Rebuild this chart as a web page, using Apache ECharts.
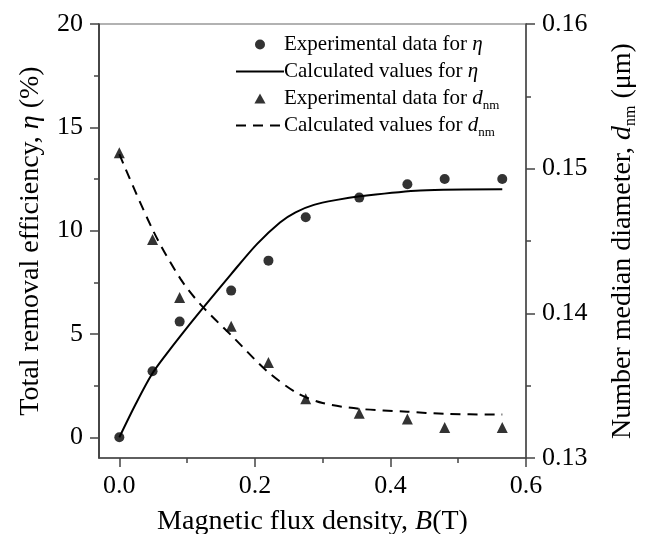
<!DOCTYPE html>
<html>
<head>
<meta charset="utf-8">
<script src="https://cdn.jsdelivr.net/npm/echarts@6/dist/echarts.min.js"></script>
<style>
  html, body { margin: 0; padding: 0; background: #fff; }
  #chart { width: 651px; height: 534px; }
</style>
</head>
<body>
<div id="chart"></div>
<script>
// Measured removal efficiency and number median diameter vs magnetic flux density
const B_exp = [0, 0.049, 0.089, 0.165, 0.22, 0.275, 0.354, 0.425, 0.48, 0.565];
const eta_exp = [0, 3.2, 5.6, 7.1, 8.55, 10.65, 11.6, 12.25, 12.5, 12.5];
const dnm_exp = [0.1511, 0.1451, 0.1411, 0.1391, 0.1366, 0.1341, 0.1331, 0.1327, 0.1321, 0.1321];

// Model curves
const B_eta_calc = [0, 0.024, 0.048, 0.07, 0.09, 0.122, 0.165, 0.203, 0.237, 0.26, 0.287, 0.321, 0.355, 0.444, 0.565];
const eta_calc = [0, 1.6, 3.05, 4.05, 4.9, 6.2, 7.9, 9.35, 10.4, 10.89, 11.25, 11.49, 11.66, 11.94, 12.0];
const B_dnm_calc = [0, 0.05, 0.09, 0.12, 0.169, 0.218, 0.262, 0.3, 0.354, 0.425, 0.48, 0.565];
const dnm_calc = [0.151, 0.1457, 0.1424, 0.1406, 0.1383, 0.136, 0.1345, 0.1338, 0.1334, 0.1332, 0.13305, 0.1330];

// Axis ticks
const xTicks = [0, 0.2, 0.4, 0.6];
const xMinorTicks = [0.1, 0.3, 0.5];
const yLeftTicks = [0, 5, 10, 15, 20];
const yLeftMinorTicks = [2.5, 7.5, 12.5, 17.5];
const yRightTicks = [0.13, 0.14, 0.15, 0.16];
const yRightMinorTicks = [0.135, 0.145, 0.155];

const FONT = '"Liberation Serif", "Times New Roman", serif';
const AX = '#444';

const pairs = (xs, ys) => xs.map((x, i) => [x, ys[i]]);

const richStyles = {
  n: { fontFamily: FONT, fontSize: 28, color: '#000' },
  i: { fontFamily: FONT, fontSize: 28, fontStyle: 'italic', color: '#000' },
  s: { fontFamily: FONT, fontSize: 16, color: '#000', padding: [16, 0, 0, 0] }
};
const legendRich = {
  n: { fontFamily: FONT, fontSize: 21, color: '#000', lineHeight: 24 },
  i: { fontFamily: FONT, fontSize: 21, fontStyle: 'italic', color: '#000', lineHeight: 24 },
  s: { fontFamily: FONT, fontSize: 13, color: '#000', padding: [14, 0, 0, 0], lineHeight: 24 }
};

// every entry carries a subscript slot so the rows share one height
const legendText = {
  etaExp: '{n|Experimental data for }{i|η}{s| }',
  etaCalc: '{n|Calculated values for }{i|η}{s| }',
  dExp: '{n|Experimental data for }{i|d}{s|nm}',
  dCalc: '{n|Calculated values for }{i|d}{s|nm}'
};

const chart = echarts.init(document.getElementById('chart'), null, { renderer: 'canvas' });

const baseX = { type: 'value', min: -0.03, max: 0.6, gridIndex: 0, position: 'bottom', splitLine: { show: false } };
const baseYL = { type: 'value', min: -1, max: 20, position: 'left', splitLine: { show: false } };
const baseYR = { type: 'value', min: 0.13, max: 0.16, position: 'right', splitLine: { show: false } };
const tickLabel = { fontFamily: FONT, fontSize: 26, color: '#000' };

chart.setOption({
  backgroundColor: '#fff',
  animation: false,
  grid: {
    left: 99, right: 125, top: 24, bottom: 76,
    outerBoundsMode: 'none', containLabel: false,
    show: true, borderColor: '#999', borderWidth: 1.5, backgroundColor: 'transparent'
  },
  legend: {
    orient: 'vertical',
    left: 235,
    top: 31,
    itemWidth: 48,
    itemHeight: 10,
    itemGap: 0,
    padding: 0,
    selectedMode: false,
    data: [
      { name: 'etaExp', icon: 'circle' },
      { name: 'etaCalc', itemStyle: { opacity: 0 } },
      { name: 'dExp', icon: 'path://M5,0 L10,9 L0,9 Z' },
      { name: 'dCalc', itemStyle: { opacity: 0 } }
    ],
    formatter: name => legendText[name],
    textStyle: { fontFamily: FONT, fontSize: 21, color: '#000', rich: legendRich, padding: [0, 0, 0, -5] }
  },
  xAxis: [
    Object.assign({}, baseX, {
      name: '{n|Magnetic flux density, }{i|B}{n|(T)}',
      nameLocation: 'middle',
      nameGap: 50,
      nameTextStyle: { rich: richStyles },
      axisLine: { show: true, onZero: false, lineStyle: { color: AX, width: 1.5 } },
      axisTick: { show: true, length: 9, customValues: xTicks, lineStyle: { color: AX, width: 1.5 } },
      axisLabel: Object.assign({ show: true, customValues: xTicks, margin: 15, formatter: v => v.toFixed(1) }, tickLabel)
    }),
    Object.assign({}, baseX, {
      axisLine: { show: false, onZero: false },
      axisTick: { show: true, length: 5, customValues: xMinorTicks, lineStyle: { color: AX, width: 1.5 } },
      axisLabel: { show: false }
    })
  ],
  yAxis: [
    Object.assign({}, baseYL, {
      name: '{n|Total removal efficiency, }{i|η}{n| (%)}',
      nameLocation: 'middle',
      nameRotate: 90,
      nameGap: 54,
      nameTextStyle: { rich: richStyles },
      axisLine: { show: true, onZero: false, lineStyle: { color: '#222', width: 1.5 } },
      axisTick: { show: true, length: 9, customValues: yLeftTicks, lineStyle: { color: AX, width: 1.5 } },
      axisLabel: Object.assign({ show: true, customValues: yLeftTicks, margin: 16 }, tickLabel)
    }),
    Object.assign({}, baseYR, {
      name: '{n|Number median diameter, }{i|d}{s|nm}{n| (μm)}',
      nameLocation: 'middle',
      nameRotate: 90,
      nameGap: 81,
      nameTextStyle: { rich: richStyles },
      axisLine: { show: true, onZero: false, lineStyle: { color: AX, width: 1.5 } },
      axisTick: { show: true, length: 9, customValues: yRightTicks, lineStyle: { color: AX, width: 1.5 } },
      axisLabel: Object.assign({ show: true, customValues: yRightTicks, margin: 16, formatter: v => v.toFixed(2) }, tickLabel)
    }),
    Object.assign({}, baseYL, {
      axisLine: { show: false, onZero: false },
      axisTick: { show: true, length: 5, customValues: yLeftMinorTicks, lineStyle: { color: AX, width: 1.5 } },
      axisLabel: { show: false }
    }),
    Object.assign({}, baseYR, {
      axisLine: { show: false, onZero: false },
      axisTick: { show: true, length: 5, customValues: yRightMinorTicks, lineStyle: { color: AX, width: 1.5 } },
      axisLabel: { show: false }
    })
  ],
  series: [
    {
      name: 'etaCalc', type: 'line', xAxisIndex: 0, yAxisIndex: 0,
      data: pairs(B_eta_calc, eta_calc), smooth: 0.3, showSymbol: false, symbol: 'none',
      lineStyle: { color: '#000', width: 2 }, itemStyle: { color: '#000' }, z: 3
    },
    {
      name: 'dCalc', type: 'line', xAxisIndex: 0, yAxisIndex: 1,
      data: pairs(B_dnm_calc, dnm_calc), smooth: 0.3, showSymbol: false, symbol: 'none',
      lineStyle: { color: '#000', width: 2, type: [10, 7] }, itemStyle: { color: '#000' }, z: 3
    },
    {
      name: 'etaExp', type: 'scatter', xAxisIndex: 0, yAxisIndex: 0,
      data: pairs(B_exp, eta_exp), symbol: 'circle', symbolSize: 10,
      itemStyle: { color: '#000' }, z: 4
    },
    {
      name: 'dExp', type: 'scatter', xAxisIndex: 0, yAxisIndex: 1,
      data: pairs(B_exp, dnm_exp), symbol: 'triangle', symbolSize: 11,
      itemStyle: { color: '#000' }, z: 4
    }
  ]
});
</script>
</body>
</html>
